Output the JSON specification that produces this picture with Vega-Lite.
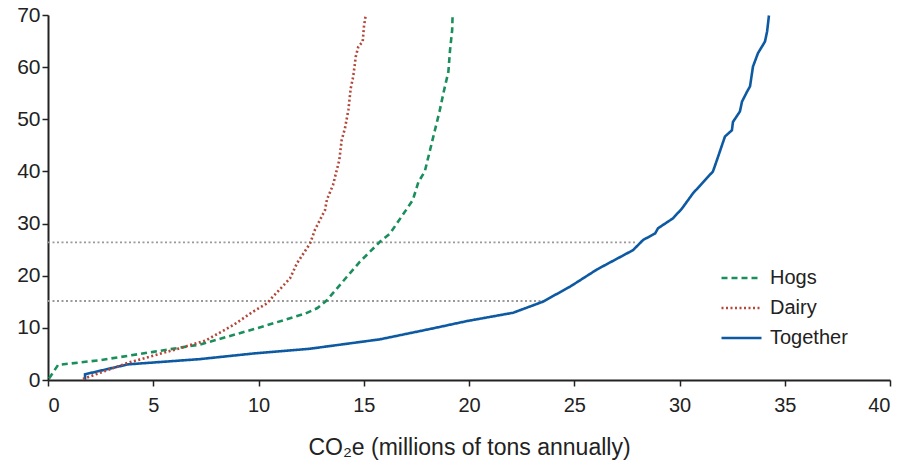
{
  "$schema": "https://vega.github.io/schema/vega-lite/v6.json",
  "width": 842,
  "height": 365,
  "autosize": {"type": "none"},
  "padding": {"left": 48, "top": 15, "right": 14, "bottom": 85},
  "background": "white",
  "config": {
    "view": {"stroke": null},
    "font": "Liberation Sans",
    "axis": {"grid": false, "domainColor": "#222", "domainWidth": 2, "tickColor": "#222", "tickWidth": 1.5, "tickSize": 6, "labelColor": "#222", "labelFont": "Liberation Sans"}
  },
  "datasets": {
    "curves": [
      {"series": "Together", "x": 1.76, "y": 0},
      {"series": "Together", "x": 1.76, "y": 1.1},
      {"series": "Together", "x": 3.8, "y": 3.0},
      {"series": "Together", "x": 7.2, "y": 4.0},
      {"series": "Together", "x": 9.8, "y": 5.1},
      {"series": "Together", "x": 12.45, "y": 6.0},
      {"series": "Together", "x": 15.77, "y": 7.8},
      {"series": "Together", "x": 18.29, "y": 9.9},
      {"series": "Together", "x": 19.9, "y": 11.3},
      {"series": "Together", "x": 22.1, "y": 12.9},
      {"series": "Together", "x": 23.5, "y": 15.0},
      {"series": "Together", "x": 24.8, "y": 17.9},
      {"series": "Together", "x": 26.08, "y": 21.2},
      {"series": "Together", "x": 27.79, "y": 24.9},
      {"series": "Together", "x": 28.27, "y": 26.85},
      {"series": "Together", "x": 28.84, "y": 28.1},
      {"series": "Together", "x": 28.98, "y": 29.1},
      {"series": "Together", "x": 29.69, "y": 31.0},
      {"series": "Together", "x": 30.12, "y": 32.9},
      {"series": "Together", "x": 30.64, "y": 35.8},
      {"series": "Together", "x": 31.59, "y": 40.0},
      {"series": "Together", "x": 31.78, "y": 42.2},
      {"series": "Together", "x": 32.16, "y": 46.7},
      {"series": "Together", "x": 32.49, "y": 47.9},
      {"series": "Together", "x": 32.54, "y": 49.5},
      {"series": "Together", "x": 32.87, "y": 51.5},
      {"series": "Together", "x": 32.97, "y": 53.4},
      {"series": "Together", "x": 33.21, "y": 55.3},
      {"series": "Together", "x": 33.35, "y": 56.3},
      {"series": "Together", "x": 33.49, "y": 60.1},
      {"series": "Together", "x": 33.73, "y": 62.7},
      {"series": "Together", "x": 34.06, "y": 64.9},
      {"series": "Together", "x": 34.16, "y": 66.8},
      {"series": "Together", "x": 34.25, "y": 69.9},
      {"series": "Hogs", "x": 0.05, "y": 0.3},
      {"series": "Hogs", "x": 0.48, "y": 2.9},
      {"series": "Hogs", "x": 2.47, "y": 3.8},
      {"series": "Hogs", "x": 5.0, "y": 5.4},
      {"series": "Hogs", "x": 7.22, "y": 6.8},
      {"series": "Hogs", "x": 9.9, "y": 9.9},
      {"series": "Hogs", "x": 12.2, "y": 12.7},
      {"series": "Hogs", "x": 12.8, "y": 13.8},
      {"series": "Hogs", "x": 13.25, "y": 15.3},
      {"series": "Hogs", "x": 14.2, "y": 19.8},
      {"series": "Hogs", "x": 14.82, "y": 22.7},
      {"series": "Hogs", "x": 15.77, "y": 26.5},
      {"series": "Hogs", "x": 16.25, "y": 28.1},
      {"series": "Hogs", "x": 17.33, "y": 34.5},
      {"series": "Hogs", "x": 17.6, "y": 38.0},
      {"series": "Hogs", "x": 17.9, "y": 40.0},
      {"series": "Hogs", "x": 18.15, "y": 44.1},
      {"series": "Hogs", "x": 18.38, "y": 47.9},
      {"series": "Hogs", "x": 18.6, "y": 51.5},
      {"series": "Hogs", "x": 18.8, "y": 55.3},
      {"series": "Hogs", "x": 19.02, "y": 59.1},
      {"series": "Hogs", "x": 19.1, "y": 63.3},
      {"series": "Hogs", "x": 19.2, "y": 67.1},
      {"series": "Hogs", "x": 19.22, "y": 69.9},
      {"series": "Dairy", "x": 1.66, "y": 0.2},
      {"series": "Dairy", "x": 3.8, "y": 3.3},
      {"series": "Dairy", "x": 6.27, "y": 6.1},
      {"series": "Dairy", "x": 7.5, "y": 7.6},
      {"series": "Dairy", "x": 8.79, "y": 10.5},
      {"series": "Dairy", "x": 9.74, "y": 13.1},
      {"series": "Dairy", "x": 10.4, "y": 14.7},
      {"series": "Dairy", "x": 10.69, "y": 16.0},
      {"series": "Dairy", "x": 11.5, "y": 19.5},
      {"series": "Dairy", "x": 11.83, "y": 22.4},
      {"series": "Dairy", "x": 12.45, "y": 26.2},
      {"series": "Dairy", "x": 12.68, "y": 28.8},
      {"series": "Dairy", "x": 13.16, "y": 32.6},
      {"series": "Dairy", "x": 13.25, "y": 34.6},
      {"series": "Dairy", "x": 13.54, "y": 37.4},
      {"series": "Dairy", "x": 13.84, "y": 42.2},
      {"series": "Dairy", "x": 13.95, "y": 46.0},
      {"series": "Dairy", "x": 14.11, "y": 48.3},
      {"series": "Dairy", "x": 14.27, "y": 51.8},
      {"series": "Dairy", "x": 14.38, "y": 55.9},
      {"series": "Dairy", "x": 14.5, "y": 58.2},
      {"series": "Dairy", "x": 14.62, "y": 62.0},
      {"series": "Dairy", "x": 14.74, "y": 63.9},
      {"series": "Dairy", "x": 14.95, "y": 64.9},
      {"series": "Dairy", "x": 15.01, "y": 67.8},
      {"series": "Dairy", "x": 15.09, "y": 69.9}
    ],
    "refs": [
      {"x": 0, "x2": 27.98, "y": 26.4},
      {"x": 0, "x2": 23.5, "y": 15.15}
    ]
  },
  "layer": [
    {
      "data": {"name": "refs"},
      "mark": {"type": "rule", "color": "#999999", "strokeWidth": 1.8, "strokeDash": [2, 2.5]},
      "encoding": {
        "x": {"field": "x", "type": "quantitative", "scale": {"domain": [0, 40]}},
        "x2": {"field": "x2"},
        "y": {"field": "y", "type": "quantitative", "scale": {"domain": [0, 70]}}
      }
    },
    {
      "data": {"name": "curves"},
      "mark": {"type": "line", "strokeWidth": 2.6},
      "encoding": {
        "x": {
          "field": "x", "type": "quantitative",
          "scale": {"domain": [0, 40], "nice": false},
          "axis": {"values": [0, 5, 10, 15, 20, 25, 30, 35, 40], "labelFontSize": 20, "labelPadding": 9, "title": "CO₂e (millions of tons annually)", "titleFont": "Liberation Sans", "titleFontSize": 23, "titleFontWeight": "normal", "titleColor": "#222", "titlePadding": 21}
        },
        "y": {
          "field": "y", "type": "quantitative",
          "scale": {"domain": [0, 70], "nice": false},
          "axis": {"values": [0, 10, 20, 30, 40, 50, 60, 70], "title": null, "labelFontSize": 21, "labelPadding": 2}
        },
        "order": {"field": "y"},
        "color": {
          "field": "series", "type": "nominal",
          "scale": {"domain": ["Hogs", "Dairy", "Together"], "range": ["#1a8f5c", "#b3473a", "#0d5aa3"]},
          "legend": {
            "title": null, "orient": "none", "legendX": 672, "legendY": 253,
            "symbolType": "stroke", "symbolSize": 1600, "symbolStrokeWidth": 2.5, "clipHeight": 20,
            "labelFontSize": 20, "labelColor": "#222", "rowPadding": 10, "labelOffset": 7
          }
        },
        "strokeDash": {
          "field": "series", "type": "nominal",
          "scale": {"domain": ["Hogs", "Dairy", "Together"], "range": [[6, 4], [2, 2.5], [1, 0]]},
          "legend": null
        }
      }
    }
  ]
}
